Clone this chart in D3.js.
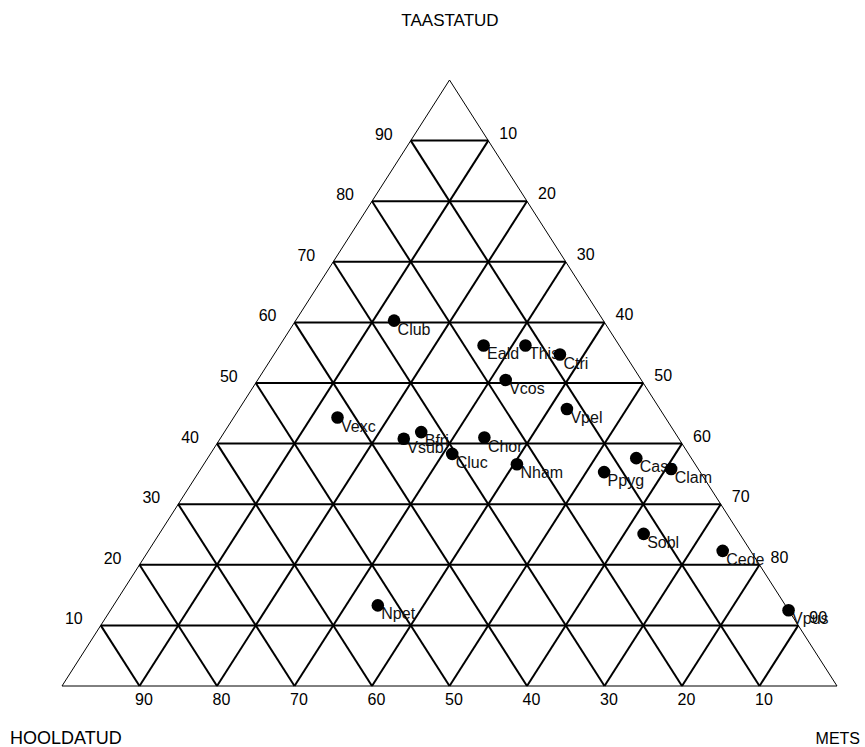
<!DOCTYPE html>
<html>
<head>
<meta charset="utf-8">
<script src="https://cdn.jsdelivr.net/npm/d3@7"></script>
<style>
  html, body { margin: 0; padding: 0; background: #fff; }
  svg { display: block; }
  text { font-family: "Liberation Sans", Arial, sans-serif; }
</style>
</head>
<body>
<svg id="chart" width="865" height="747"></svg>
<script>
// ---- data (percentages) ----
const species   = ["Club","Eald","This","Ctri","Vcos","Vpel","Vexc","Bfri","Vsub","Chor","Cluc","Nham","Cass","Clam","Ppyg","Sobl","Cede","Npet","Vpus"];
const taastatud = [60.3, 56.2, 56.2, 54.7, 50.5, 45.7, 44.3, 41.9, 40.8, 41.0, 38.3, 36.6, 37.6, 35.8, 35.3, 25.1, 22.3, 13.3, 12.5];
const mets      = [12.7, 26.3, 31.7, 36.9, 32.0, 42.3, 13.4, 25.4, 23.7, 34.0, 31.2, 40.4, 55.3, 60.7, 52.3, 62.5, 74.1, 34.1, 87.5];
const hooldatud = [27.0, 17.5, 12.1, 8.4, 17.5, 12.0, 42.3, 32.7, 35.5, 25.0, 30.5, 23.0, 7.1, 3.5, 12.4, 12.4, 3.6, 52.6, 0.0];
const gridTicks = [10, 20, 30, 40, 50, 60, 70, 80, 90];
const cornerLabels = { top: "TAASTATUD", left: "HOOLDATUD", right: "METS" };

// ---- geometry ----
const svg = d3.select("#chart");
const x = d3.scaleLinear().domain([0, 1]).range([62, 837]);
const y = d3.scaleLinear().domain([0, 1]).range([686, 80]);
// ternary (t = top share, m = right share) -> screen
const px = (t, m) => x(m + t / 2);
const py = (t) => y(t);

const g = svg.append("g");

// grid lines
const gridG = g.append("g").attr("stroke", "#000").attr("stroke-width", 2).attr("fill", "none");
gridTicks.forEach(k => {
  const f = k / 100;
  // constant TAASTATUD (horizontal)
  gridG.append("line")
    .attr("x1", px(f, 0)).attr("y1", py(f))
    .attr("x2", px(f, 1 - f)).attr("y2", py(f));
  // constant METS (parallel to left edge)
  gridG.append("line")
    .attr("x1", px(0, f)).attr("y1", py(0))
    .attr("x2", px(1 - f, f)).attr("y2", py(1 - f));
  // constant HOOLDATUD (parallel to right edge)
  gridG.append("line")
    .attr("x1", px(0, 1 - f)).attr("y1", py(0))
    .attr("x2", px(1 - f, 0)).attr("y2", py(1 - f));
});

// outer triangle
g.append("path")
  .attr("d", d3.line()([[px(1, 0), py(1)], [px(0, 0), py(0)], [px(0, 1), py(0)]]) + "Z")
  .attr("fill", "none").attr("stroke", "#000").attr("stroke-width", 1);

// tick labels
const fs = 16;
const lab = g.append("g").attr("font-size", fs).attr("fill", "#000");
gridTicks.forEach(k => {
  const f = k / 100;
  // left edge: TAASTATUD
  lab.append("text").attr("x", px(f, 0) - 18).attr("y", py(f) - 1)
    .attr("text-anchor", "end").text(k);
  // right edge: METS
  lab.append("text").attr("x", px(f, 1 - f) + 11).attr("y", py(f) - 2)
    .attr("text-anchor", "start").text(100 - k);
  // bottom: HOOLDATUD
  lab.append("text").attr("x", px(0, 1 - f) + 4.5).attr("y", py(0) + 19)
    .attr("text-anchor", "middle").text(k);
});

// corner labels
lab.append("text").attr("x", 450).attr("y", 26).attr("font-size", 17).attr("text-anchor", "middle").text(cornerLabels.top);
lab.append("text").attr("x", 10).attr("y", 744).attr("font-size", 18).attr("text-anchor", "start").text(cornerLabels.left);
lab.append("text").attr("x", 860).attr("y", 744).attr("text-anchor", "end").text(cornerLabels.right);

// points and labels
const pts = species.map((s, i) => ({ s, t: taastatud[i] / 100, m: mets[i] / 100, h: hooldatud[i] / 100 }));
const pg = g.append("g");
pts.forEach(d => {
  pg.append("text").attr("x", px(d.t, d.m) + 3.5).attr("y", py(d.t) + 14)
    .attr("font-size", fs).attr("fill", "#111").text(d.s);
});
pts.forEach(d => {
  pg.append("circle").attr("cx", px(d.t, d.m)).attr("cy", py(d.t)).attr("r", 6.3).attr("fill", "#000");
});
</script>
</body>
</html>
